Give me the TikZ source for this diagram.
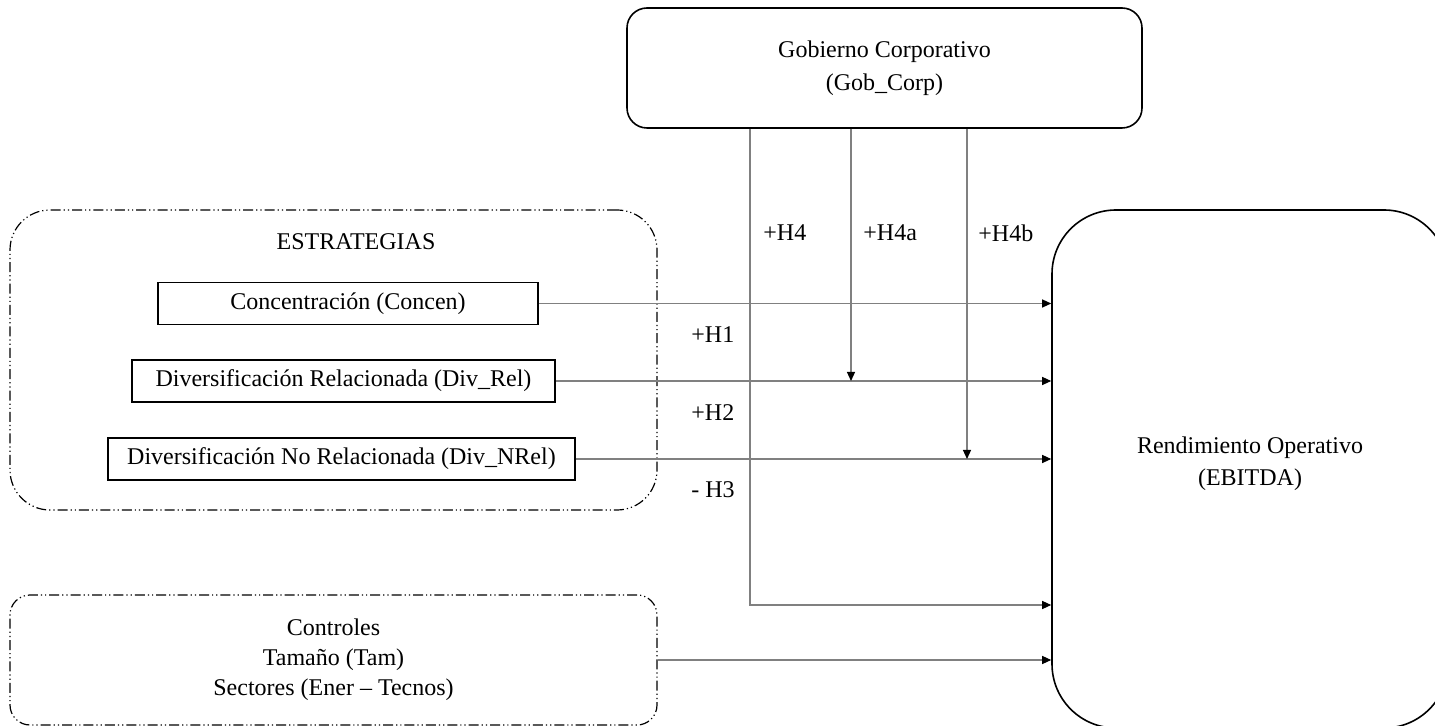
\documentclass[tikz,border=0pt]{standalone}
\usepackage{fontspec}
\setmainfont{Liberation Serif}
\usetikzlibrary{arrows.meta}

\begin{document}
\begin{tikzpicture}[x=.5pt,y=-.5pt,
 every node/.style={font=\fontsize{12}{15}\selectfont},
 var/.style={draw,line width=.8pt,inner sep=0pt,minimum height=21pt},
 group/.style={draw,line width=.6pt,rounded corners=#1,inner sep=0pt,
  dash pattern=on 5pt off 1.5pt on .6pt off 1.5pt on .6pt off 1.5pt},
 govbox/.style={draw,line width=.8pt,rounded corners=10pt,minimum width=257.5pt,
  minimum height=60pt,align=center,font=\fontsize{12}{16.5}\selectfont},
 outcome/.style={draw,line width=.8pt,rounded corners=32pt,minimum width=198pt,minimum height=259pt},
 hyp/.style={anchor=west,inner sep=0pt},
 conn/.style={draw=black!50,line width=.6pt,-{Triangle[length=4.5pt,width=4pt,color=black]}}]
 \path[use as bounding box,fill=white] (0,0) rectangle (1435,726);
 % blocks
 \node[govbox] (gob) at (884.5,68) {Gobierno Corporativo\\(Gob\_Corp)};
 \node[group=20pt,minimum width=323.5pt,minimum height=150pt] (estr) at (333.5,360) {};
 \node (estrlbl) at (356,242) {ESTRATEGIAS};
 \node[var,minimum width=190pt] (concen) at (348,303.5) {Concentración (Concen)};
 \node[var,minimum width=211.5pt] (divrel) at (343.5,381) {Diversificación Relacionada (Div\_Rel)};
 \node[var,minimum width=233.5pt] (divnrel) at (341.5,459) {Diversificación No Relacionada (Div\_NRel)};
 \node[group=10pt,minimum width=323.5pt,minimum height=65pt,align=center,
  font=\fontsize{12}{15}\selectfont] (ctrl) at (333.5,660) {Controles\\Tamaño (Tam)\\Sectores (Ener -- Tecnos)};
 \node[outcome] (ebitda) at (1250,469) {};
 \node[align=center,font=\fontsize{12}{16}\selectfont] (ebitdalbl) at (1250,464) {Rendimiento Operativo\\(EBITDA)};
 % hypotheses
 \node[hyp] (h4lbl) at (763,233) {+H4};
 \node[hyp] (h4albl) at (863,233) {+H4a};
 \node[hyp] (h4blbl) at (978,233) {+H4b};
 \node[hyp] (h1lbl) at (691,335) {+H1};
 \node[hyp] (h2lbl) at (691,413) {+H2};
 \node[hyp] (h3lbl) at (691,490) {- H3};
 % connectors
 \coordinate (h4) at (750,605);
 \coordinate (h4a) at (851,0);
 \coordinate (h4b) at (967,0);
 \draw[conn] (concen.east) -- (concen.east -| ebitda.west);
 \draw[conn] (divrel.east) -- (divrel.east -| ebitda.west);
 \draw[conn] (divnrel.east) -- (divnrel.east -| ebitda.west);
 \draw[conn] (gob.south -| h4) -- (h4) -- (h4 -| ebitda.west);
 \draw[conn] (gob.south -| h4a) -- (divrel.east -| h4a);
 \draw[conn] (gob.south -| h4b) -- (divnrel.east -| h4b);
 \draw[conn] (ctrl.east) -- (ctrl.east -| ebitda.west);
\end{tikzpicture}
\end{document}
